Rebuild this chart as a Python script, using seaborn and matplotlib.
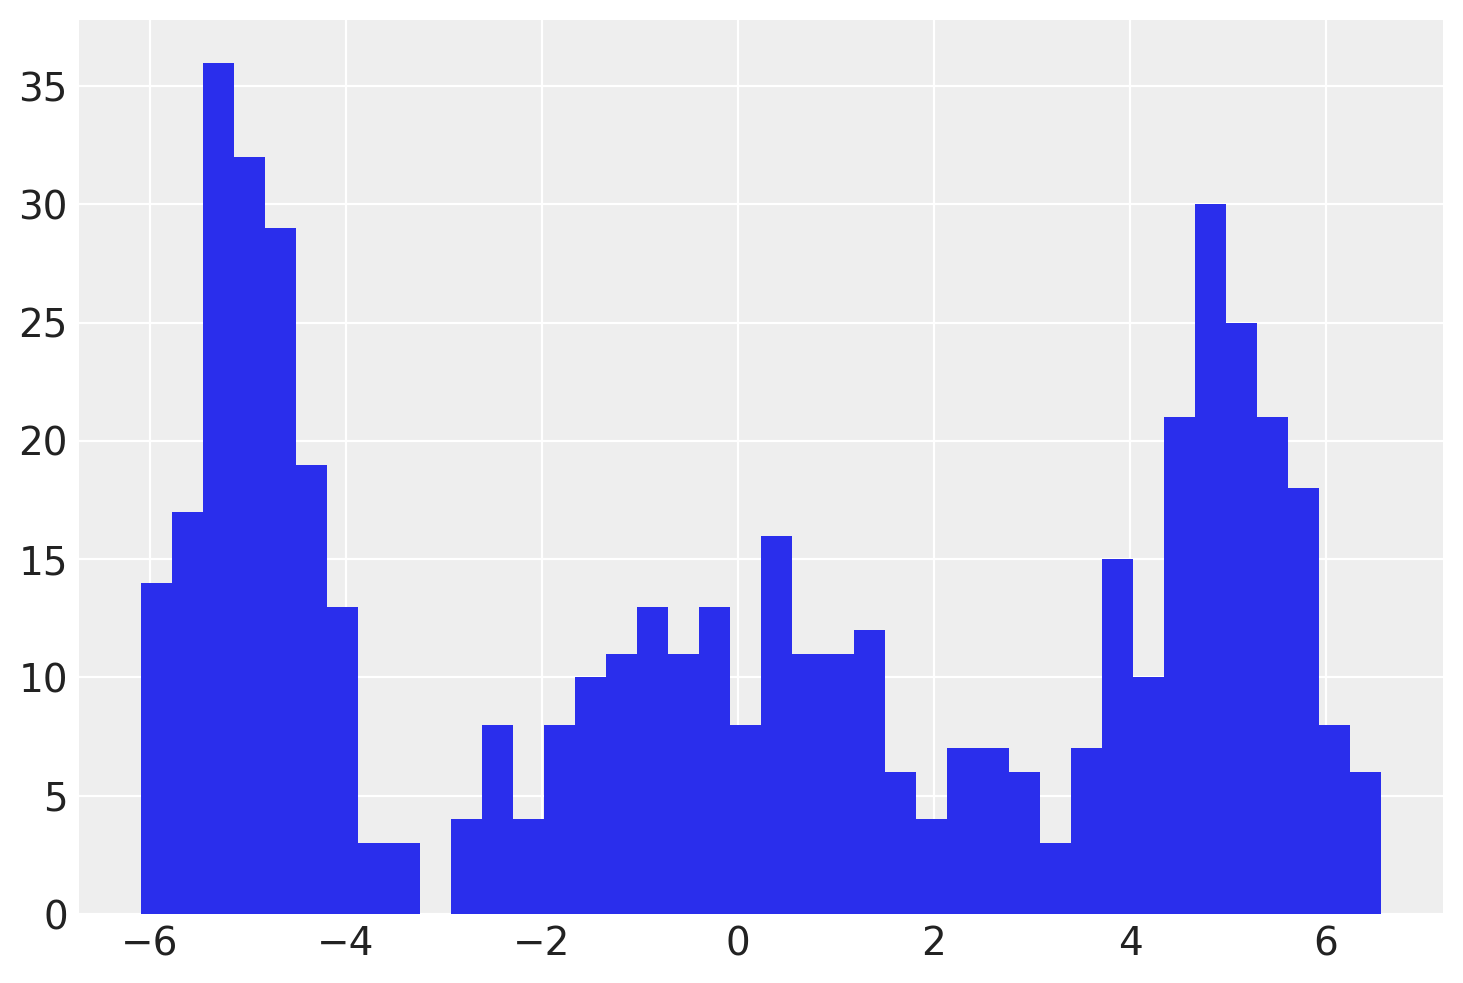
import numpy as np
import pandas as pd
import matplotlib
matplotlib.use("Agg")
import matplotlib.pyplot as plt
import seaborn as sns

counts = [14, 17, 36, 32, 29, 19, 13, 3, 3, 0,
          4, 8, 4, 8, 10, 11, 13, 11, 13, 8,
          16, 11, 11, 12, 6, 4, 7, 7, 6, 3,
          7, 15, 10, 21, 30, 25, 21, 18, 8, 6]
x_min = -6.092
x_max = 6.561

edges = np.linspace(x_min, x_max, len(counts) + 1)
centers = (edges[:-1] + edges[1:]) / 2
df = pd.DataFrame({"x": centers, "w": counts})

sns.set_theme(style="darkgrid", rc={
    "axes.facecolor": "#eeeeee",
    "grid.color": "white",
    "grid.linewidth": 0.8,
    "axes.edgecolor": "#eeeeee",
    "xtick.color": "#222222",
    "ytick.color": "#222222",
    "xtick.labelsize": 14,
    "ytick.labelsize": 14,
})
plt.rcParams["font.family"] = ["DejaVu Sans"]

fig = plt.figure(figsize=(7.315, 4.915), dpi=200)
ax = fig.add_axes([79 / 1463, (983 - 914) / 983, (1443 - 79) / 1463, (914 - 20) / 983])
sns.histplot(data=df, x="x", weights="w", bins=list(edges), ax=ax, color="#2a2eec",
             alpha=1, edgecolor="none")
ax.set_xlabel("")
ax.set_ylabel("")
for s in ax.spines.values():
    s.set_visible(False)
ax.tick_params(axis="x", length=0, pad=4)
ax.tick_params(axis="y", length=0, pad=4)
ax.set_yticks([0, 5, 10, 15, 20, 25, 30, 35])
ax.set_xticks([-6, -4, -2, 0, 2, 4, 6])
ax.set_xlim(-6.724, 7.194)
fig.savefig("out.png", dpi=200, facecolor="white")
